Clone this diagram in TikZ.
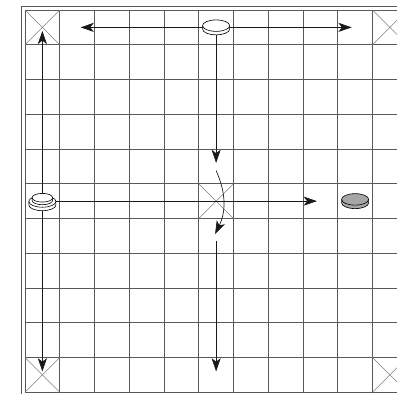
\documentclass[tikz,border=0pt]{standalone}
\usepackage{tikz}
\usetikzlibrary{arrows.meta, calc}

% one playing piece: #1 = fill colour
\newcommand{\drawcoin}[1]{%
  \fill[#1] (-0.39,0.05) -- (-0.39,-0.05)
    arc[start angle=180, end angle=360, x radius=0.39, y radius=0.165]
    -- (0.39,0.05) -- cycle;
  \draw[piece] (-0.39,0.05) -- (-0.39,-0.05)
    arc[start angle=180, end angle=360, x radius=0.39, y radius=0.165]
    -- (0.39,0.05);
  \draw[piece, fill=#1] (0,0.05) ellipse[x radius=0.39, y radius=0.165];
}

\begin{document}
\begin{tikzpicture}[
  gridline/.style={draw=black!65, line width=0.5pt},
  cross/.style={draw=black!50, line width=0.4pt},
  piece/.style={draw=black, line width=0.5pt},
  mv/.style={draw=black!90, line width=0.55pt,
             -{Stealth[length=3.8mm, width=2.6mm, inset=1mm]}}
]
  \useasboundingbox (-0.719,-0.049) rectangle (10.705,11.288);
  \def\n{11}

  % Board
  \draw[gridline] (-0.12,-0.12) rectangle (\n+0.12,\n+0.12);
  \foreach \i in {0,...,\n} {
    \draw[gridline] (\i,0) -- (\i,\n);
    \draw[gridline] (0,\i) -- (\n,\i);
  }

  % Marked squares
  \foreach \x/\y in {0/0, 0/10, 10/0, 10/10, 5/5} {
    \draw[cross] (\x,\y) -- (\x+1,\y+1) (\x,\y+1) -- (\x+1,\y);
  }

  % Piece positions
  \coordinate (top)  at (5.5,10.5);
  \coordinate (king) at (0.5,5.5);
  \coordinate (dark) at (9.5,5.5);

  % Move targets
  \coordinate (topW) at (1.6,10.5);
  \coordinate (topE) at (9.4,10.5);
  \coordinate (topS) at (5.5,6.6);
  \coordinate (bendA) at (5.5,6.38);
  \coordinate (bendB) at (5.47,4.55);
  \coordinate (lowA) at (5.5,4.35);
  \coordinate (lowB) at (5.5,0.6);
  \coordinate (kingN) at (0.5,10.4);
  \coordinate (kingS) at (0.5,0.6);
  \coordinate (kingE) at (8.4,5.5);

  % Moves
  \draw[mv] (top) -- (topW);
  \draw[mv] (top) -- (topE);
  \draw[mv] (top) -- (topS);
  \draw[mv] (bendA) to[bend left=25] (bendB);
  \draw[mv] (lowA) -- (lowB);
  \draw[mv] (king) -- (kingN);
  \draw[mv] (king) -- (kingS);
  \draw[mv] (king) -- (kingE);

  % Pieces
  \begin{scope}[shift={(top)}]
    \drawcoin{white}
  \end{scope}
  \begin{scope}[shift={(dark)}]
    \drawcoin{black!35}
  \end{scope}
  \begin{scope}[shift={($(king)+(0,-0.06)$)}]
    \drawcoin{white}
  \end{scope}
  \begin{scope}[shift={($(king)+(0,0.06)$)}, scale=0.76]
    \drawcoin{white}
  \end{scope}
\end{tikzpicture}
\end{document}
